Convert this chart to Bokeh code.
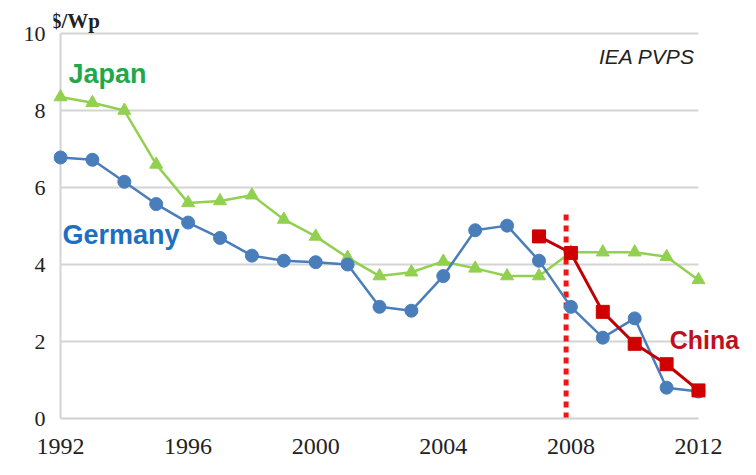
from bokeh.plotting import figure
from bokeh.models import Range1d, Label, FixedTicker
from bokeh.embed import file_html
from bokeh.resources import INLINE

years = list(range(1992, 2013))
japan = [8.35, 8.2, 8.0, 6.6, 5.6, 5.65, 5.8, 5.17, 4.73, 4.18, 3.7, 3.8, 4.08,
         3.9, 3.7, 3.7, 4.32, 4.32, 4.32, 4.2, 3.6]
germany = [6.78, 6.72, 6.15, 5.57, 5.09, 4.69, 4.23, 4.1, 4.06, 4.0, 2.9, 2.8,
           3.7, 4.89, 5.01, 4.1, 2.9, 2.1, 2.6, 0.8, 0.7]
china_years = [2007, 2008, 2009, 2010, 2011, 2012]
china = [4.73, 4.3, 2.77, 1.94, 1.41, 0.73]
y_ticks = [0, 2, 4, 6, 8, 10]
x_ticks = [1992, 1996, 2000, 2004, 2008, 2012]
marker_line_year = 2007.85
marker_line_top = 5.35

p = figure(width=740, height=459, output_backend="svg", toolbar_location=None,
           x_range=Range1d(1991.78, 2013.317), y_range=Range1d(0, 10.65),
           min_border_left=53, min_border_right=0, min_border_top=8,
           min_border_bottom=41)
p.outline_line_color = None
p.xgrid.grid_line_color = None
p.ygrid.grid_line_color = None

# axes
p.xaxis.ticker = FixedTicker(ticks=x_ticks)
p.xaxis.bounds = (years[0], years[-1])
p.xaxis.axis_line_color = "#d0d0d0"
p.xaxis.axis_line_width = 2
p.xaxis.major_tick_line_color = None
p.xaxis.minor_tick_line_color = None
p.xaxis.major_label_text_font = "Liberation Serif"
p.xaxis.major_label_text_font_size = "24px"
p.xaxis.major_label_text_color = "#222222"
p.xaxis.major_label_standoff = 14

p.yaxis.ticker = FixedTicker(ticks=y_ticks)
p.yaxis.axis_line_color = None
p.yaxis.major_tick_line_color = None
p.yaxis.minor_tick_line_color = None
p.yaxis.major_label_text_font = "Liberation Serif"
p.yaxis.major_label_text_font_size = "22px"
p.yaxis.major_label_text_color = "#222222"
p.yaxis.major_label_standoff = 2

# custom grid lines between first and last year
gy = y_ticks[1:]
p.segment(x0=[years[0]] * len(gy), x1=[years[-1]] * len(gy), y0=gy, y1=gy,
          line_color="#d4d4d4", line_width=2)
p.segment(x0=[years[0]], x1=[years[0]], y0=[y_ticks[0]], y1=[y_ticks[-1]],
          line_color="#d4d4d4", line_width=2)

# 2008 dotted line
p.segment(x0=[marker_line_year], x1=[marker_line_year], y0=[0], y1=[marker_line_top],
          line_color="#f01414", line_width=5, line_dash="6 5")

# series
p.line(years, japan, line_color="#92d050", line_width=2.5)
p.scatter(years, japan, marker="triangle", size=13, fill_color="#92d050",
          line_color="#92d050")
p.line(years, germany, line_color="#4a7ebb", line_width=2.5)
p.scatter(years, germany, marker="circle", size=13, fill_color="#4a7ebb",
          line_color="#4a7ebb")
p.line(china_years, china, line_color="#c00000", line_width=3)
p.scatter(china_years, china, marker="square", size=13, fill_color="#d00000",
          line_color="#d00000")

# labels
p.add_layout(Label(x=1991.7, y=10.64, text="$/Wp", text_font="Liberation Serif",
                   text_font_style="bold", text_font_size="21px",
                   text_color="#222222", text_baseline="top", text_align="left"))
p.add_layout(Label(x=1992.25, y=8.94, text="Japan", text_font="Liberation Sans",
                   text_font_style="bold", text_font_size="27px",
                   text_color="#22a84a", text_baseline="middle"))
p.add_layout(Label(x=1992.06, y=4.76, text="Germany", text_font="Liberation Sans",
                   text_font_style="bold", text_font_size="27px",
                   text_color="#1c6fc1", text_baseline="middle"))
p.add_layout(Label(x=2011.1, y=2.04, text="China", text_font="Liberation Sans",
                   text_font_style="bold", text_font_size="25px",
                   text_color="#c0101e", text_baseline="middle"))
p.add_layout(Label(x=2011.88, y=9.4, text="IEA PVPS", text_font="Liberation Sans",
                   text_font_style="italic", text_font_size="21px",
                   text_color="#222222", text_baseline="middle", text_align="right"))

open("out.html", "w").write(file_html(p, INLINE))
